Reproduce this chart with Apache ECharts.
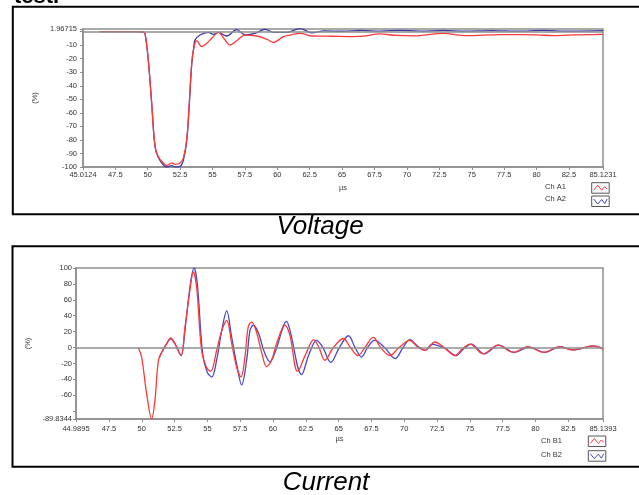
<!DOCTYPE html>
<html>
<head>
<meta charset="utf-8">
<script src="https://cdn.jsdelivr.net/npm/echarts@6/dist/echarts.min.js"></script>
<style>
html,body{margin:0;padding:0;background:#fff}
#main{width:639px;height:495px}
</style>
</head>
<body>
<div id="main"></div>
<script>
// Voltage, [µs, %]
var chA1 = [[46.3,0],[49.2,0],[49.66,-0.3],[49.8,-1.5],[50.05,-21],[50.31,-53],[50.57,-85],[50.82,-92.4],[51.21,-97],[51.47,-99],[51.86,-97],[52.11,-98],[52.5,-97],[52.75,-93.4],[53.01,-80],[53.21,-53],[53.4,-23],[53.58,-11],[53.79,-6.7],[54.17,-11],[54.56,-8.6],[54.94,-4.9],[55.45,-0.5],[55.97,-6.2],[56.35,-9.9],[56.87,-6.7],[57.51,-2.5],[58.42,-3.2],[59.19,-5.6],[59.7,-7.9],[60.47,-3.7],[60.98,-2.5],[61.76,-1.2],[62.66,-3.2],[64.3,-3.4],[65.5,-3.6],[66.6,-3.3],[67.9,-1.7],[69.2,-2.8],[70.5,-3.1],[72.8,-1.3],[74.6,-3],[77.2,-2.2],[80,-2.3],[81.3,-3],[82.4,-2.6],[83.5,-2.3],[85.12,-2]];
var chA2 = [[46.3,0],[49.2,0],[49.66,-0.3],[49.8,-1.5],[50.05,-21],[50.31,-53],[50.57,-85],[50.82,-93],[51.21,-98.5],[51.47,-100],[51.86,-99],[52.11,-100],[52.5,-99.5],[52.75,-95],[53.01,-81],[53.21,-54],[53.4,-24],[53.58,-10],[53.65,-6.2],[54.04,-2.5],[54.68,-0.5],[55.07,-2],[55.45,-0.5],[56.1,-3.2],[56.87,1.5],[57.51,-2.3],[58.28,-1.2],[59.06,1.8],[59.7,-0.5],[60.73,-0.5],[61.76,2.3],[62.66,-0.8],[63.6,0.6],[65,0.3],[66.5,0.9],[68,0.4],[69.5,1],[71,0.4],[72.8,0.9],[74.5,0.4],[76.5,0.8],[78.5,0.4],[80.5,0.9],[82.5,0.4],[85.12,0.7]];
// Current, [µs, %]
var chB1 = [[49.73,0],[49.99,-12],[50.37,-58],[50.75,-89.8],[51.0,-67],[51.26,-17],[51.52,-6],[51.9,5],[52.2,12],[52.53,5],[52.99,-10],[53.29,25],[53.67,72],[53.92,95],[54.18,76],[54.56,-4],[54.94,-25],[55.25,-30],[55.7,-4],[56.09,21],[56.47,34],[56.85,5],[57.23,-25],[57.56,-37],[57.86,-12],[58.11,26],[58.37,32],[58.75,19],[59.13,-6],[59.51,-24],[59.89,-16],[60.27,5],[60.91,28],[61.29,15],[61.87,-30],[62.5,-8],[63.1,10],[63.5,0],[63.95,-16],[64.6,0],[65.35,11.4],[65.9,0],[66.47,-10],[67.0,0],[67.63,12.7],[68.2,0],[68.9,-10],[69.6,0],[70.4,9],[71.0,1],[71.6,-3.5],[72.33,7],[73.1,-1],[73.85,-10],[74.4,-2],[75.0,4.4],[76.0,-8],[77.13,3],[78.3,-6],[79.41,1],[80.6,-6],[81.85,1],[82.8,-3],[84.36,2],[85.14,-2]];
var chB2 = [[51.33,-12],[51.59,-4],[51.9,5],[52.2,11],[52.53,4.6],[52.99,-10],[53.29,22],[53.67,76],[53.98,100],[54.23,80],[54.64,-8],[54.99,-31],[55.33,-37],[55.7,-16],[56.09,21],[56.47,46],[56.85,13],[57.23,-21],[57.61,-47],[57.99,-16],[58.24,21],[58.49,28],[58.9,18],[59.3,-4],[59.76,-18],[60.2,-4],[61.04,33],[61.3,21],[62.18,-34],[62.75,-8],[63.32,9],[63.8,0],[64.4,-18.6],[65.05,0],[65.75,14.8],[66.25,0],[66.75,-12],[67.2,0],[67.73,9],[68.5,0],[69.3,-14],[69.9,0],[70.43,10],[71.0,2],[71.6,-3.5],[72.1,4],[73.1,-1],[73.95,-10],[74.5,-2],[75.1,4.4],[76.1,-8],[77.2,3],[78.4,-6],[79.5,0.5],[80.7,-6],[81.9,1],[82.9,-3],[84.4,2],[85.14,-1.5]];

// axis ticks / labels
var voltX = [45.0124,47.5,50,52.5,55,57.5,60,62.5,65,67.5,70,72.5,75,77.5,80,82.5,85.1231];
var voltYLabels = [-100,-90,-80,-70,-60,-50,-40,-30,-20,-10,1.96715];
var voltYTicks = [-100,-90,-80,-70,-60,-50,-40,-30,-20,-10,0,1.96715];
var currX = [44.9895,47.5,50,52.5,55,57.5,60,62.5,65,67.5,70,72.5,75,77.5,80,82.5,85.1393];
var currYLabels = [-89.8344,-60,-40,-20,0,20,40,60,80,100];
var currYTicks = [-89.8344,-80,-60,-40,-20,0,20,40,60,80,100];

var RED = '#ff3838', BLUE = '#4848c8', AXC = '#8e8e8e';
var FONT = 'Liberation Sans';

function xAx(idx, ticks, gap, margin) {
    return {
        type: 'value', gridIndex: idx,
        min: ticks[0], max: ticks[ticks.length - 1],
        name: 'µs', nameLocation: 'middle', nameGap: gap,
        nameTextStyle: {fontSize: 7.5, color: '#444', fontFamily: FONT},
        axisLine: {onZero: false, lineStyle: {color: AXC, width: 1.5}},
        axisTick: {length: 3, lineStyle: {color: AXC}, customValues: ticks},
        axisLabel: {fontSize: 7.5, color: '#333', fontFamily: FONT, margin: margin, customValues: ticks,
            formatter: function (v) { return String(v); }},
        splitLine: {show: false}
    };
}
function yAx(idx, labels, ticks, gap, margin) {
    return {
        type: 'value', gridIndex: idx,
        min: ticks[0], max: ticks[ticks.length - 1],
        name: '(%)', nameLocation: 'middle', nameGap: gap, nameRotate: 90,
        nameTextStyle: {fontSize: 7.5, color: '#444', fontFamily: FONT},
        axisLine: {onZero: false, lineStyle: {color: AXC, width: 1.5}},
        axisTick: {length: 3, lineStyle: {color: AXC}, customValues: ticks},
        axisLabel: {fontSize: 7.5, color: '#333', fontFamily: FONT, margin: margin, customValues: labels,
            formatter: function (v) { return String(v); }},
        splitLine: {show: false}
    };
}
var zeroLine = {
    silent: true, symbol: 'none', label: {show: false},
    lineStyle: {color: AXC, width: 1.5, type: 'solid'},
    data: [{yAxis: 0}]
};
function ser(name, idx, data, color, z, mark) {
    var s = {
        name: name, type: 'line', xAxisIndex: idx, yAxisIndex: idx,
        data: data, showSymbol: false, smooth: 0.35, z: z,
        lineStyle: {color: color, width: 1.3}, itemStyle: {color: color}
    };
    if (mark) s.markLine = zeroLine;
    return s;
}
function icon(x, y, color, pts) {
    return {
        type: 'group', children: [
            {type: 'rect', shape: {x: x, y: y, width: 17.5, height: 10.5}, style: {fill: '#fff', stroke: '#555', lineWidth: 1}},
            {type: 'polyline', shape: {points: pts.map(function (p) { return [x + p[0], y + p[1]]; })},
                style: {fill: null, stroke: color, lineWidth: 1}}
        ]
    };
}
var wave1 = [[2,7.5],[6,2.5],[10,7.5],[13,4],[15.5,6.5]];
var wave2 = [[2,3],[6,8],[10,3.5],[13,7.5],[15.5,3]];

var myChart = echarts.init(document.getElementById('main'));
var option = {
    backgroundColor: '#fff',
    animation: false,
    grid: [
        {left: 83, top: 29, right: 36, height: 138, show: true, borderColor: AXC, borderWidth: 1.5, backgroundColor: '#fff'},
        {left: 76, top: 268, right: 36, height: 151, show: true, borderColor: AXC, borderWidth: 1.5, backgroundColor: '#fff'}
    ],
    xAxis: [xAx(0, voltX, 17, 4), xAx(1, currX, 16, 6)],
    yAxis: [yAx(0, voltYLabels, voltYTicks, 32, 6), yAx(1, currYLabels, currYTicks, 37, 4)],
    legend: [
        {data: ['Ch A1', 'Ch A2'], orient: 'vertical', left: 540, top: 182, icon: 'none', itemWidth: 0, itemHeight: 10,
            itemGap: 3.4, padding: 0, selectedMode: false, textStyle: {fontSize: 7.5, color: '#333', fontFamily: FONT}},
        {data: ['Ch B1', 'Ch B2'], orient: 'vertical', left: 536, top: 436, icon: 'none', itemWidth: 0, itemHeight: 10,
            itemGap: 4.6, padding: 0, selectedMode: false, textStyle: {fontSize: 7.5, color: '#333', fontFamily: FONT}}
    ],
    series: [
        ser('Ch A2', 0, chA2, '#3c3ca8', 2, true),
        ser('Ch A1', 0, chA1, RED, 3, false),
        ser('Ch B2', 1, chB2, BLUE, 2, true),
        ser('Ch B1', 1, chB1, RED, 3, false)
    ],
    graphic: [
        {type: 'rect', shape: {x: 12.8, y: 6.7, width: 640, height: 207.6}, style: {fill: null, stroke: '#000', lineWidth: 2}},
        {type: 'rect', shape: {x: 12.5, y: 246.3, width: 640, height: 220.4}, style: {fill: null, stroke: '#000', lineWidth: 2}},
        {type: 'text', x: 14, y: 7.5, style: {text: 'test.', font: 'bold 22px "Liberation Sans"', fill: '#000', textVerticalAlign: 'bottom'}},
        {type: 'text', x: 320, y: 226.5, style: {text: 'Voltage', font: 'italic 26px "Liberation Sans"', fill: '#000', textAlign: 'center', textVerticalAlign: 'middle'}},
        {type: 'text', x: 326, y: 483, style: {text: 'Current', font: 'italic 26px "Liberation Sans"', fill: '#000', textAlign: 'center', textVerticalAlign: 'middle'}},
        icon(591.7, 182.7, RED, wave1),
        icon(591.7, 196, '#3c3ca8', wave2),
        icon(588.3, 436, RED, wave1),
        icon(588.3, 450.7, BLUE, wave2)
    ]
};
myChart.setOption(option);
</script>
</body>
</html>
